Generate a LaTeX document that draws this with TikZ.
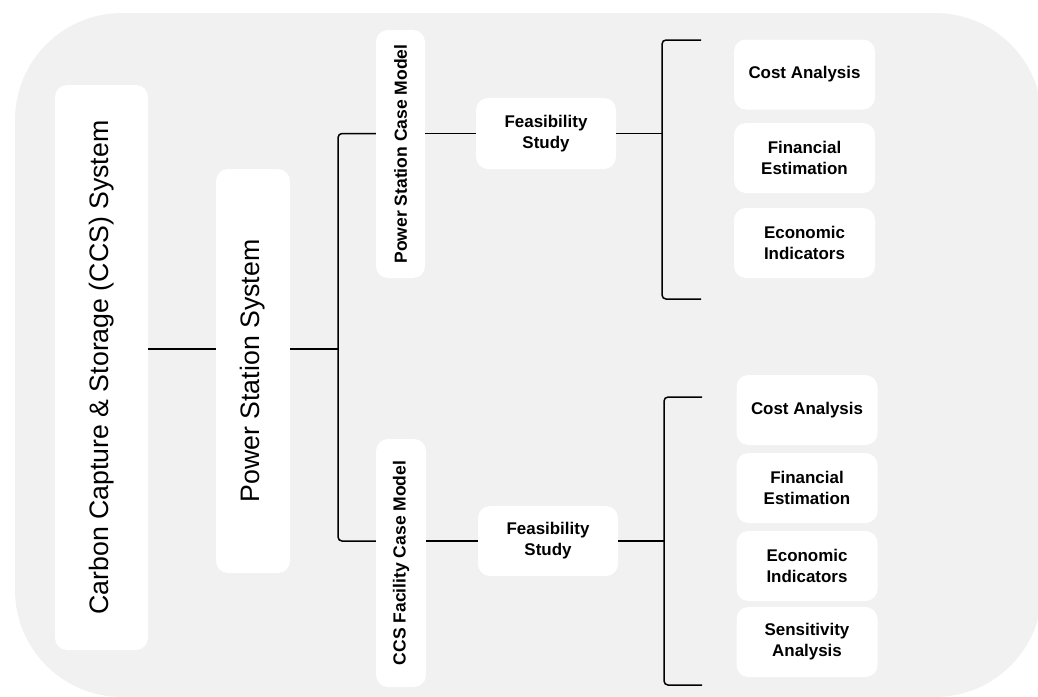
\documentclass[tikz,border=0pt]{standalone}
\usepackage{fontspec}
\setmainfont{Liberation Sans}
\usepackage{tikz}
\usetikzlibrary{arrows}
\definecolor{panelgray}{HTML}{F1F1F1}

\begin{document}
\begin{tikzpicture}[scale=0.35278]
\tikzstyle{every node}+=[inner sep=0pt]
\tikzstyle{box}=[fill=white, rounded corners=12bp, align=center, font=\fontsize{17}{21}\selectfont\bfseries]
\tikzstyle{bigbox}=[fill=white, rounded corners=12bp, rotate=90, font=\fontsize{26.8}{32}\selectfont]
\tikzstyle{sidebox}=[box, rotate=90, font=\fontsize{17.6}{21}\selectfont\bfseries]
\tikzstyle{leaf}=[box, minimum width=141bp, minimum height=70bp]
\tikzstyle{link}=[black, line width=1.5bp]
\tikzstyle{brace}=[link, rounded corners=4bp]
\useasboundingbox (0,0) rectangle (103.8,-69.7);
\fill [panelgray, rounded corners=107bp] (1.5,-1.3) rectangle (104.2,-69.7);
% left column
\node [bigbox, minimum width=565bp, minimum height=93bp] (ccs) at (10.15,-36.75) {Carbon Capture \& Storage (CCS) System};
\node [bigbox, minimum width=404bp, minimum height=74bp] (pss) at (25.3,-37.1) {Power Station System};
% case models
\node [sidebox, minimum width=248bp, minimum height=49bp] (pscm) at (40.05,-15.4) {Power Station Case Model};
\node [sidebox, minimum width=248bp, minimum height=50bp] (ccsm) at (40.1,-56.3) {CCS Facility Case Model};
\node [box, minimum width=140bp, minimum height=71bp] (feas1) at (54.6,-13.35) {Feasibility\\Study};
\node [box, minimum width=140bp, minimum height=70bp] (feas2) at (54.8,-54.1) {Feasibility\\Study};
% results
\node [leaf] (cost1) at (80.45,-7.45) {Cost Analysis};
\node [leaf] (fin1) at (80.45,-15.8) {Financial\\Estimation};
\node [leaf] (eco1) at (80.45,-24.3) {Economic\\Indicators};
\node [leaf] (cost2) at (80.7,-41.0) {Cost Analysis};
\node [leaf] (fin2) at (80.7,-48.8) {Financial\\Estimation};
\node [leaf] (eco2) at (80.7,-56.6) {Economic\\Indicators};
\node [leaf] (sens2) at (80.7,-64.2) {Sensitivity\\Analysis};
% connectors
\coordinate (trunk) at (33.8,-34.9);
\coordinate (b1x) at (66.2,-13.35);
\coordinate (b1t) at (70.1,-4.0);
\coordinate (b1b) at (70.1,-29.9);
\coordinate (b2x) at (66.4,-54.1);
\coordinate (b2t) at (70.2,-39.7);
\coordinate (b2b) at (70.2,-68.5);
\draw [link] (ccs.south |- trunk) -- (pss.north |- trunk);
\draw [link] (pss.south |- trunk) -- (trunk);
\draw [brace] (pscm.north |- feas1) -| (trunk) |- (ccsm.north |- feas2);
\draw [link] (pscm.south |- feas1) -- (feas1.west);
\draw [link] (feas1.east) -- (b1x);
\draw [brace] (b1t) -| (b1x) |- (b1b);
\draw [link] (ccsm.south |- feas2) -- (feas2.west);
\draw [link] (feas2.east) -- (b2x);
\draw [brace] (b2t) -| (b2x) |- (b2b);
\end{tikzpicture}
\end{document}
